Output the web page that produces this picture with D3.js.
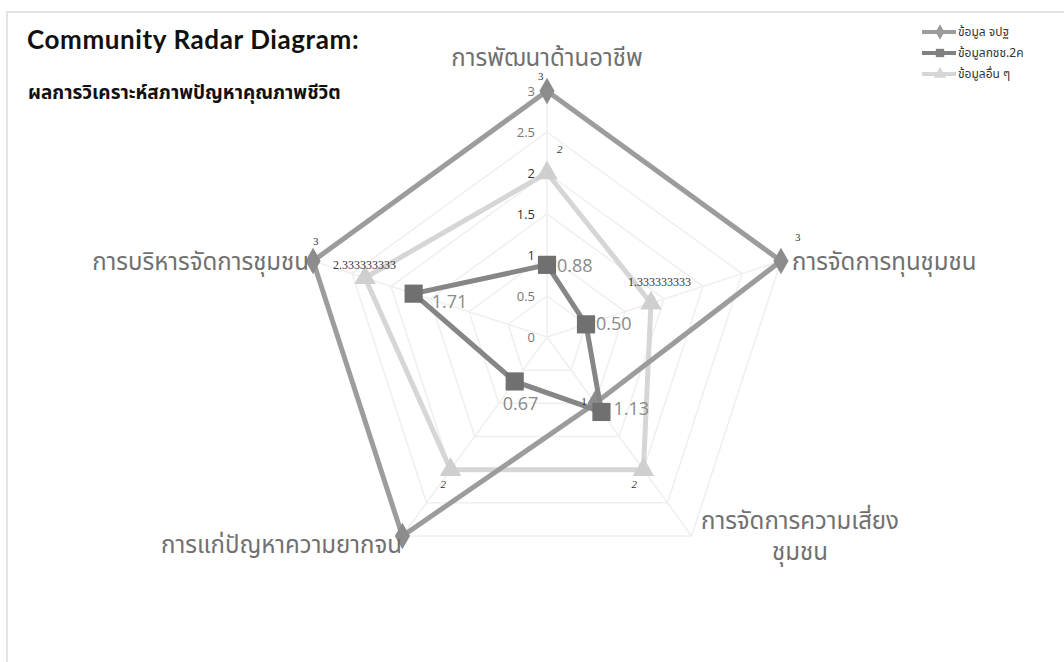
<!DOCTYPE html>
<html>
<head>
<meta charset="utf-8">
<script src="https://cdn.jsdelivr.net/npm/d3@7"></script>
<style>
  body { margin: 0; background: #fff; }
  svg { display: block; }
</style>
</head>
<body>
<script>
// chart values
const axes = ['การพัฒนาด้านอาชีพ', 'การจัดการทุนชุมชน', 'การจัดการความเสี่ยง\nชุมชน', 'การแก่ปัญหาความยากจน', 'การบริหารจัดการชุมชน'];
const seriesNames = ['ข้อมูล จปฐ', 'ข้อมูลกชช.2ค', 'ข้อมูลอื่น ๆ'];
const jpt = [3, 3, 1, 3, 3];
const kchch = [0.88, 0.50, 1.13, 0.67, 1.71];
const other = [2, 1.333333333, 2, 2, 2.333333333];
const ticks = [0, 0.5, 1, 1.5, 2, 2.5, 3];

const width = 1064, height = 662;
const cx = 547, cy = 337;
const thaiFont = '"Noto Sans Thai", "Noto Sans", "DejaVu Sans", sans-serif';

const svg = d3.select('body').append('svg')
  .attr('width', width)
  .attr('height', height);

// frame
svg.append('path')
  .attr('d', 'M7,' + height + ' V12 H' + width)
  .attr('fill', 'none')
  .attr('stroke', '#e4e4e4')
  .attr('stroke-width', 2);

// radius scale
const r = d3.scaleLinear().domain([0, 3]).range([0, 246]);
const angle = (i) => -Math.PI / 2 + i * 2 * Math.PI / 5;
const pt = (v, i) => [cx + r(v) * Math.cos(angle(i)), cy + r(v) * Math.sin(angle(i))];

// web grid
ticks.slice(1).forEach((t) => {
  svg.append('polygon')
    .attr('points', d3.range(5).map((i) => pt(t, i).join(',')).join(' '))
    .attr('fill', 'none')
    .attr('stroke', '#efefef')
    .attr('stroke-width', 1.5);
});
d3.range(5).forEach((i) => {
  const p = pt(3, i);
  svg.append('line')
    .attr('x1', cx).attr('y1', cy)
    .attr('x2', p[0]).attr('y2', p[1])
    .attr('stroke', '#efefef')
    .attr('stroke-width', 1.5);
});

// tick labels along the top axis
svg.selectAll('.tick-label')
  .data(ticks)
  .enter()
  .append('text')
  .attr('class', 'tick-label')
  .attr('x', cx - 12)
  .attr('y', (d) => cy - r(d) + 5)
  .attr('text-anchor', 'end')
  .attr('font-family', '"Open Sans", sans-serif')
  .attr('font-size', 13)
  .attr('fill', (d) => (d === 1 || d === 2 || d === 1.5) ? '#333' : '#777')
  .text((d) => d);

// series drawing
const line = d3.line().curve(d3.curveLinearClosed);

function drawSeries(values, color, darker, shape, size) {
  const pts = values.map((v, i) => pt(v, i));
  svg.append('path')
    .attr('d', line(pts))
    .attr('fill', 'none')
    .attr('stroke', color)
    .attr('stroke-width', 5)
    .attr('stroke-linejoin', 'miter');
  svg.selectAll(null)
    .data(pts)
    .enter()
    .append('path')
    .attr('transform', (d) => 'translate(' + d[0] + ',' + d[1] + ')')
    .attr('d', d3.symbol().type(shape).size(size))
    .attr('fill', darker);
}

drawSeries(other, '#d6d6d6', '#cfcfcf', d3.symbolTriangle, 200);
drawSeries(jpt, '#9c9c9c', '#8c8c8c', d3.symbolDiamond, 200);
drawSeries(kchch, '#868686', '#707070', d3.symbolSquare, 330);

// data labels
const smallLabel = (x, y, t, italic) => svg.append('text')
  .attr('x', x).attr('y', y)
  .attr('font-family', '"Liberation Serif", serif')
  .attr('font-size', 11)
  .attr('font-style', italic ? 'italic' : 'normal')
  .attr('fill', '#333')
  .text(t);

// jpt labels
[[0, -9, -11], [1, 14, -20], [2, -14, 2], [4, 0, -16]].forEach(([i, dx, dy]) => {
  const p = pt(jpt[i], i);
  smallLabel(p[0] + dx, p[1] + dy, jpt[i]);
});
// other labels
[[0, 10, -20], [2, -12, 18], [3, -10, 18]].forEach(([i, dx, dy]) => {
  const p = pt(other[i], i);
  smallLabel(p[0] + dx, p[1] + dy, other[i], true);
});
{
  const p1 = pt(other[1], 1);
  smallLabel(p1[0] - 23, p1[1] - 17, other[1].toFixed(9)).attr('font-size', 12);
  const p4 = pt(other[4], 4);
  smallLabel(p4[0] - 32, p4[1] - 9, other[4].toFixed(9)).attr('font-size', 12);
}
// kchch labels
[[0, 10, 7], [1, 10, 6], [2, 12, 3], [3, -12, 29], [4, 18, 14]].forEach(([i, dx, dy]) => {
  const p = pt(kchch[i], i);
  svg.append('text')
    .attr('x', p[0] + dx).attr('y', p[1] + dy)
    .attr('font-family', '"Open Sans", sans-serif')
    .attr('font-size', 18)
    .attr('fill', '#8a8a8a')
    .text(kchch[i].toFixed(2));
});

// axis labels
const axisPos = [
  { x: cx, y: 66, anchor: 'middle' },
  { x: 792, y: 270, anchor: 'start' },
  { x: 800, y: 529, anchor: 'middle' },
  { x: 402, y: 553, anchor: 'end' },
  { x: 309, y: 270, anchor: 'end' }
];
axes.forEach((a, i) => {
  const t = svg.append('text')
    .attr('x', axisPos[i].x)
    .attr('y', axisPos[i].y)
    .attr('text-anchor', axisPos[i].anchor)
    .attr('font-family', thaiFont)
    .attr('font-size', 24)
    .attr('fill', '#707070');
  a.split('\n').forEach((s, k) => {
    t.append('tspan')
      .attr('x', axisPos[i].x)
      .attr('dy', k === 0 ? 0 : 31)
      .text(s);
  });
});

// title
svg.append('text')
  .attr('x', 27).attr('y', 49)
  .attr('font-family', 'Lato, "Open Sans", sans-serif')
  .attr('font-weight', 'bold')
  .attr('font-size', 26)
  .attr('letter-spacing', 0.6)
  .attr('fill', '#111')
  .text('Community Radar Diagram:');
svg.append('text')
  .attr('x', 28).attr('y', 99)
  .attr('font-family', thaiFont)
  .attr('font-weight', 'bold')
  .attr('font-size', 19)
  .attr('fill', '#111')
  .text('ผลการวิเคราะห์สภาพปัญหาคุณภาพชีวิต');

// legend
const legend = [
  { name: seriesNames[0], color: '#9c9c9c', shape: d3.symbolDiamond },
  { name: seriesNames[1], color: '#808080', shape: d3.symbolSquare },
  { name: seriesNames[2], color: '#d6d6d6', shape: d3.symbolTriangle }
];
legend.forEach((l, k) => {
  const y = 32 + k * 21;
  svg.append('line')
    .attr('x1', 922).attr('x2', 956)
    .attr('y1', y).attr('y2', y)
    .attr('stroke', l.color)
    .attr('stroke-width', 4);
  svg.append('path')
    .attr('transform', 'translate(940,' + y + ')')
    .attr('d', d3.symbol().type(l.shape).size(70))
    .attr('fill', l.color);
  svg.append('text')
    .attr('x', 958).attr('y', y + 4)
    .attr('font-family', thaiFont)
    .attr('font-size', 12)
    .attr('fill', '#333')
    .text(l.name);
});
</script>
</body>
</html>
